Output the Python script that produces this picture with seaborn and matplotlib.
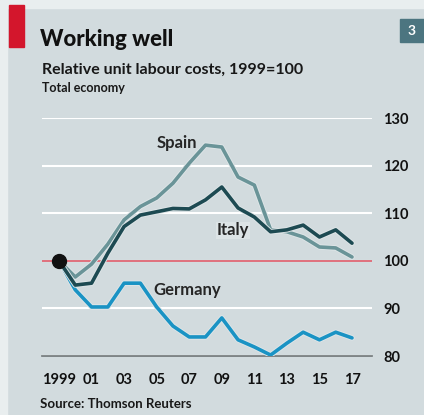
import numpy as np
import pandas as pd
import matplotlib
matplotlib.use("Agg")
import matplotlib.pyplot as plt
import matplotlib.patheffects as pe
from matplotlib.patches import Rectangle
import seaborn as sns

# ---------------- data
years = list(range(1999, 2018))
spain = [100, 96.6, 99.3, 103.5, 108.6, 111.4, 113.2, 116.3, 120.5, 124.3,
         123.9, 117.6, 115.9, 106.5, 106.1, 105.0, 102.9, 102.7, 100.8]
italy = [100, 94.9, 95.3, 101.6, 107.2, 109.6, 110.3, 111.0, 110.9, 112.8,
         115.5, 111.1, 109.2, 106.1, 106.5, 107.5, 105.0, 106.5, 103.7]
germany = [100, 93.9, 90.3, 90.3, 95.3, 95.3, 90.3, 86.3, 84.0, 84.0,
           88.0, 83.4, 81.9, 80.2, 82.7, 85.0, 83.4, 85.0, 83.8]
countries = ["Spain", "Italy", "Germany"]
y_ticks = [80, 90, 100, 110, 120, 130]
x_tick_labels = ["1999", "01", "03", "05", "07", "09", "11", "13", "15", "17"]

BG = "#d2dbde"
colors = {"Spain": "#6a9498", "Italy": "#1d4a52", "Germany": "#1a93c4"}

df = pd.DataFrame({
    "year": years * 3,
    "value": spain + italy + germany,
    "country": [c for c in countries for _ in years],
})

sns.set_style("white", rc={"axes.facecolor": BG, "figure.facecolor": BG})
plt.rcParams["font.family"] = ["Lato", "DejaVu Sans"]

W, H = 424, 415
fig = plt.figure(figsize=(W / 100, H / 100), dpi=100)

# светлые поля сверху и слева
fig.patches.append(Rectangle((0, 1 - 8 / H), 1, 8 / H, transform=fig.transFigure,
                             color="#e9eeef", zorder=0))
fig.patches.append(Rectangle((0, 0), 7 / W, 1, transform=fig.transFigure,
                             color="#e9eeef", zorder=0))
# красный флажок
fig.patches.append(Rectangle((9 / W, 1 - 47 / H), 15 / W, 42 / H, transform=fig.transFigure,
                             color="#d3162c", zorder=2))
# номер графика
fig.patches.append(Rectangle((400 / W, 1 - 42 / H), 24 / W, 23 / H, transform=fig.transFigure,
                             color="#4c7580", zorder=2))
fig.text(412 / W, 1 - 31 / H, "3", color="white", fontsize=10, fontweight="bold",
         ha="center", va="center", zorder=3)

ax = fig.add_axes([42 / W, 1 - 356 / H, 330 / W, 238 / H])

sns.lineplot(data=df, x="year", y="value", hue="country", palette=colors,
             hue_order=["Germany", "Spain", "Italy"], linewidth=2.6, legend=False,
             ax=ax, zorder=4)
for ln in ax.get_lines():
    ln.set_path_effects([pe.Stroke(linewidth=3.9, foreground="#dfe6e8"), pe.Normal()])
    ln.set_solid_capstyle("round")
    ln.set_solid_joinstyle("round")

# точка старта
ax.plot(years[0], spain[0], "o", color="#111111", markersize=10, zorder=6)

# опорная линия 100
ax.axhline(100, color="#dc6472", lw=1.3, zorder=3)

ax.set_xlim(1999 - 17 / 16.28, 2017 + 20 / 16.28)
ax.set_ylim(80, 130)

ax.set_yticks(y_ticks)
ax.yaxis.tick_right()
ax.tick_params(axis="y", length=0, pad=8, labelsize=10.5, labelcolor="#111111")
for t in ax.get_yticklabels():
    t.set_fontweight("bold")
ax.grid(axis="y", color="white", lw=1.5, zorder=1)

ax.set_xticks(years)
ax.set_xticklabels([x_tick_labels[(y - 1999) // 2] if (y - 1999) % 2 == 0 else "" for y in years])
ax.tick_params(axis="x", length=5, width=1, color="#8a9092", direction="out", pad=7,
               labelsize=10.5, labelcolor="#111111")
for t in ax.get_xticklabels():
    t.set_fontweight("bold")

for s in ["top", "left", "right"]:
    ax.spines[s].set_visible(False)
ax.spines["bottom"].set_color("#6e7476")
ax.spines["bottom"].set_linewidth(1.2)
ax.set_xlabel("")
ax.set_ylabel("")

# подписи серий
ax.text(2006.25, 124.7, "Spain", fontsize=12, fontweight="bold", color="#262626",
        ha="center", va="center", zorder=7)
ax.text(2009.7, 106.4, "Italy", fontsize=12, fontweight="bold", color="#262626",
        ha="center", va="center", zorder=7,
        bbox=dict(facecolor="#dde4e6", edgecolor="none", pad=0.5))
ax.text(2006.9, 93.9, "Germany", fontsize=12, fontweight="bold", color="#262626",
        ha="center", va="center", zorder=7)

# заголовки
fig.text(40 / W, 1 - 46 / H, "Working well", fontsize=16, fontweight="black",
         color="#111111", va="baseline")
fig.text(42 / W, 1 - 74 / H, "Relative unit labour costs, 1999=100", fontsize=11.5,
         fontweight="bold", color="#181818", va="baseline")
fig.text(42 / W, 1 - 92 / H, "Total economy", fontsize=9, fontweight="bold",
         color="#181818", va="baseline")
fig.text(40 / W, 1 - 408 / H, "Source: Thomson Reuters", fontsize=9.5, fontweight="bold",
         color="#181818", va="baseline")

fig.savefig("out.png", dpi=100, facecolor=BG)
